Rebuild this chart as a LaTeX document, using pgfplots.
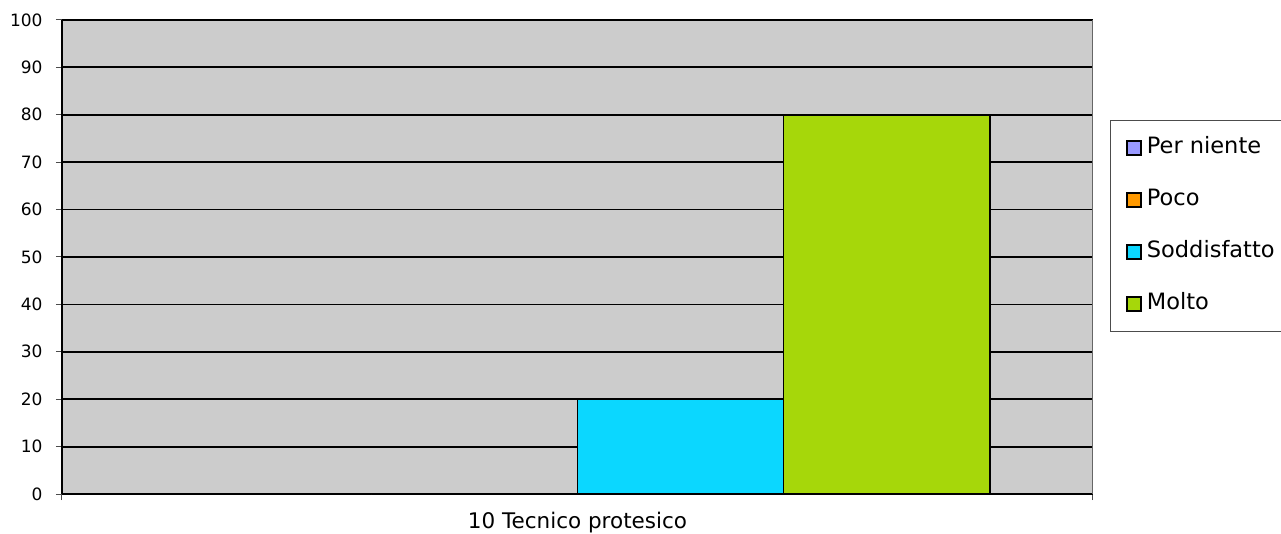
\documentclass[border=0pt]{standalone}
\usepackage{pgfplots}
\pgfplotsset{compat=1.18}
\usepackage{fontspec}
\setmainfont{DejaVu Sans}
\definecolor{bgc}{HTML}{CCCCCC}
\definecolor{cper}{HTML}{9999FF}
\definecolor{cpoco}{HTML}{FF9900}
\definecolor{csod}{HTML}{0BD7FF}
\definecolor{cmol}{HTML}{A6D70A}
\pgfplotsset{
  sqleg/.style={legend image code/.code={\draw[##1,draw=black,line width=2.6pt] (0pt,-7pt) rectangle (14pt,7pt); \path[draw=none,fill=none] (18pt,0pt);}}
}
\begin{document}
\begin{tikzpicture}
\useasboundingbox (-62pt,-39pt) rectangle (1219pt,494pt);
\begin{axis}[
  at={(0,0)}, anchor=south west,
  scale only axis, width=1031pt, height=474pt,
  xmin=-2.5, xmax=2.5, ymin=0, ymax=100,
  axis background/.style={fill=bgc},
  axis x line*=bottom, axis y line*=left,
  axis line style={black, line width=1.8pt, -},
  ytick={0,10,...,100},
  ymajorgrids, grid style={black, line width=1.8pt},
  xtick={-2.5,2.5}, xticklabels={},
  extra x ticks={0}, extra x tick labels={10 Tecnico protesico},
  extra x tick style={major tick length=0pt, tick label style={yshift=-15pt, font=\fontsize{21.5}{25}\selectfont}},
  tick style={black!70, line width=1pt},
  major tick length=6pt,
  tick align=outside,
  ytick style={draw=black!70},
  /pgf/number format/assume math mode=true,
  ticklabel style={font=\fontsize{17}{20}\selectfont},
  yticklabel style={xshift=-10pt},
  ybar, bar width=1, bar shift=0pt,
  legend style={at={(1.0166,0.789)}, anchor=north west, draw=black!70, line width=1pt,
    fill=white, font=\fontsize{22.5}{26}\selectfont, row sep=27pt, inner sep=15pt,
    nodes={text height=16pt, text depth=5pt, inner sep=2pt}, cells={anchor=west}},
  legend cell align=left,
]
\addplot[fill=cper, draw=black, line width=1.5pt, sqleg] coordinates {(-1.5,0)};
\addplot[fill=cpoco, draw=black, line width=1.5pt, sqleg] coordinates {(-0.5,0)};
\addplot[fill=csod, draw=black, line width=1.5pt, sqleg] coordinates {(0.5,20)};
\addplot[fill=cmol, draw=black, line width=1.5pt, sqleg] coordinates {(1.5,80)};
\legend{Per niente,Poco,Soddisfatto,Molto}
\draw[black!60, line width=1.5pt] (rel axis cs:1,0) -- (rel axis cs:1,1);
\end{axis}
\end{tikzpicture}
\end{document}
